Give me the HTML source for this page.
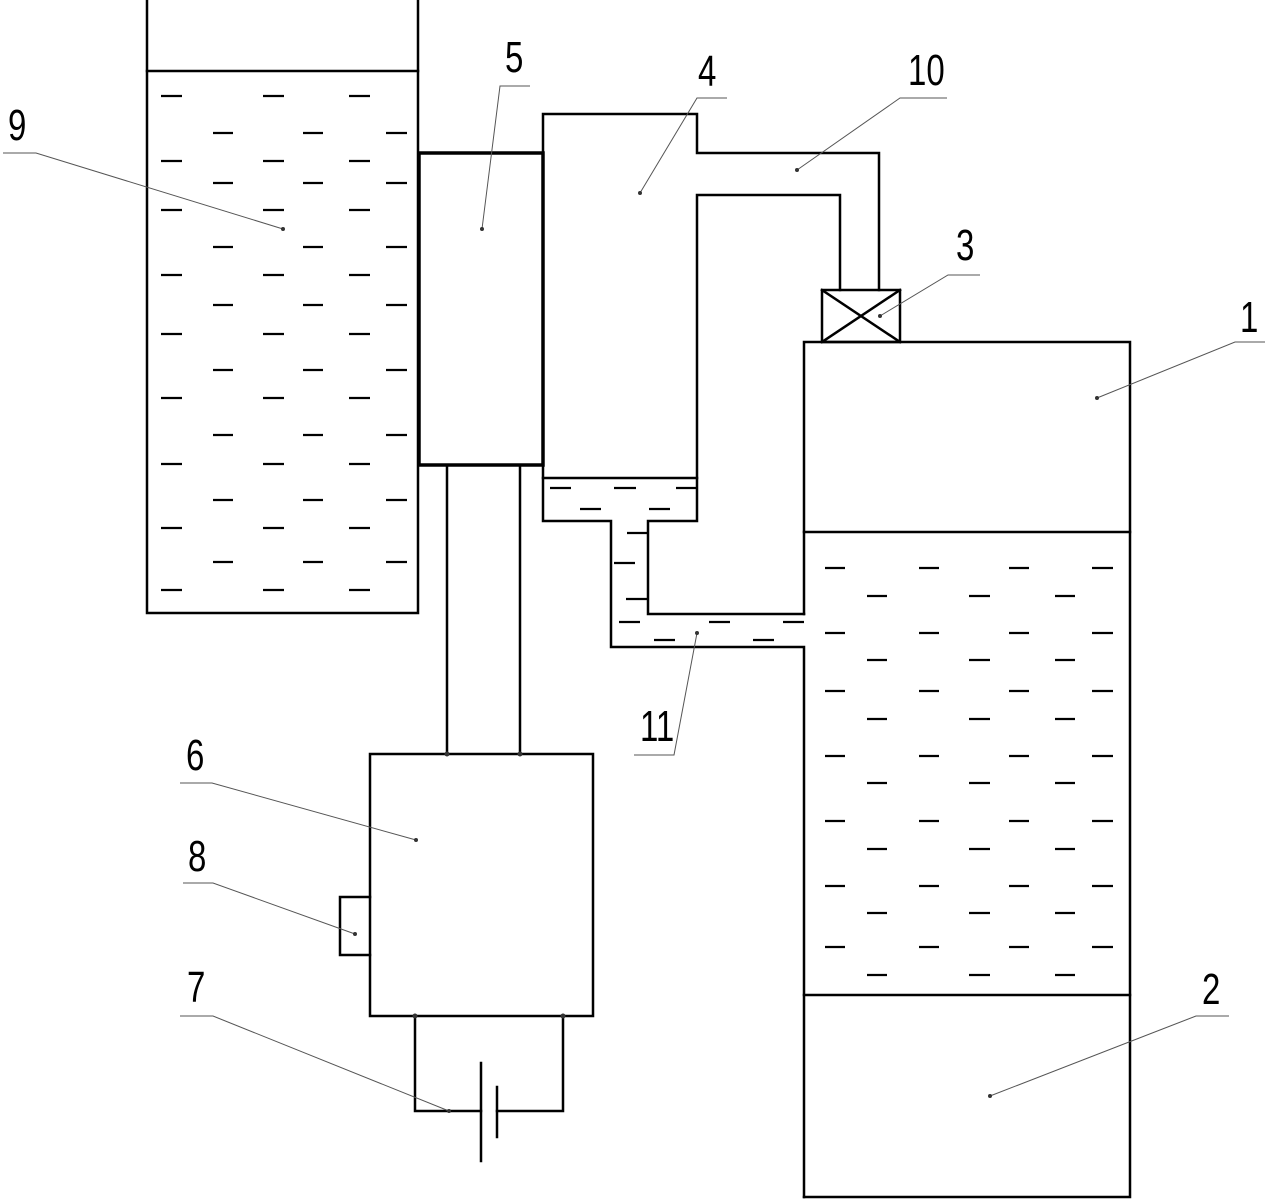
<!DOCTYPE html>
<html><head><meta charset="utf-8"><style>
html,body{margin:0;padding:0;background:#fff;}
svg{display:block}
text{font-family:"Liberation Sans",sans-serif;font-size:44px;fill:#000;}
</style></head><body>
<svg width="1265" height="1200" viewBox="0 0 1265 1200" xmlns="http://www.w3.org/2000/svg">
<g stroke="#000" stroke-width="2.5" fill="none" stroke-linecap="square">
<!-- tank 9 -->
<polyline points="147,0 147,613 418,613 418,0"/>
<line x1="147" y1="71" x2="418" y2="71"/>
<!-- 5 -->
<rect x="419" y="153" width="124" height="312" stroke-width="3.5"/>
<line x1="447" y1="465" x2="447" y2="754"/>
<line x1="520" y1="465" x2="520" y2="754"/>
<!-- 6 -->
<rect x="370" y="754" width="223" height="262"/>
<polyline points="370,897 340,897 340,955 370,955"/>
<!-- battery -->
<polyline points="415,1016 415,1111 481,1111"/>
<line x1="481" y1="1063" x2="481" y2="1161"/>
<line x1="497" y1="1087" x2="497" y2="1137"/>
<polyline points="497,1111 563,1111 563,1016"/>
<!-- vessel 4 and pipes -->
<polyline points="543,465 543,114 697,114 697,153 879,153 879,290"/>
<polyline points="840,290 840,195 697,195 697,521 648,521 648,614 804,614"/>
<line x1="543" y1="478" x2="697" y2="478"/>
<polyline points="543,465 543,521 611,521 611,647 804,647 804,1197"/>
<!-- valve 3 -->
<rect x="822" y="290" width="78" height="52"/>
<line x1="822" y1="290" x2="900" y2="342"/>
<line x1="900" y1="290" x2="822" y2="342"/>
<!-- vessel 1/2 -->
<polyline points="804,614 804,342 1130,342 1130,1197 804,1197"/>
<line x1="804" y1="532" x2="1130" y2="532"/>
<line x1="804" y1="995" x2="1130" y2="995"/>
</g>
<g stroke="#000" stroke-width="2.2">
<!-- tank 9 dashes -->
<g id="a9">
<path d="M161 96h21M263 96h21M349 96h21 M161 161h21M263 161h21M349 161h21 M161 210h21M263 210h21M349 210h21 M161 275h21M263 275h21M349 275h21 M161 334h21M263 334h21M349 334h21 M161 398h21M263 398h21M349 398h21 M161 464h21M263 464h21M349 464h21 M161 528h21M263 528h21M349 528h21 M161 590h21M263 590h21M349 590h21"/>
<path d="M213 133h20M303 133h20M386 133h21 M213 183h20M303 183h20M386 183h21 M213 247h20M303 247h20M386 247h21 M213 305h20M303 305h20M386 305h21 M213 370h20M303 370h20M386 370h21 M213 435h20M303 435h20M386 435h21 M213 500h20M303 500h20M386 500h21 M213 562h20M303 562h20M386 562h21"/>
</g>
<!-- vessel 2 dashes -->
<path d="M825 568h20M919 568h20M1009 568h20M1092 568h21 M825 633h20M919 633h20M1009 633h20M1092 633h21 M825 691h20M919 691h20M1009 691h20M1092 691h21 M825 756h20M919 756h20M1009 756h20M1092 756h21 M825 821h20M919 821h20M1009 821h20M1092 821h21 M825 886h20M919 886h20M1009 886h20M1092 886h21 M825 947h20M919 947h20M1009 947h20M1092 947h21"/>
<path d="M867 596h20M969 596h21M1055 596h20 M867 660h20M969 660h21M1055 660h20 M867 719h20M969 719h21M1055 719h20 M867 783h20M969 783h21M1055 783h20 M867 849h20M969 849h21M1055 849h20 M867 913h20M969 913h21M1055 913h20 M867 975h20M969 975h21M1055 975h20"/>
<!-- pipe dashes -->
<path d="M550 488h21M614 488h22M676 488h21 M580 509h21M649 509h21 M627 533h20M614 563h21M626 599h21 M619 622h21M709 622h21M783 622h21 M654 640h21M753 640h21"/>
</g>
<!-- leaders -->
<g stroke="#555" stroke-width="1" fill="none">
<polyline points="3,153 36,153 283,229"/>
<polyline points="530,86 500,86 482,229"/>
<polyline points="727,98 697,98 640,193"/>
<polyline points="947,98 900,98 797,170"/>
<polyline points="980,275 948,275 880,316"/>
<polyline points="1265,342 1235,342 1097,398"/>
<polyline points="1229,1016 1196,1016 990,1096"/>
<polyline points="180,783 212,783 416,840"/>
<polyline points="183,883 213,883 355,934"/>
<polyline points="180,1016 213,1016 449,1111"/>
<polyline points="634,755 674,755 697,633"/>
</g>
<g fill="#333">
<circle cx="283" cy="229" r="2"/><circle cx="482" cy="229" r="2"/><circle cx="640" cy="193" r="2"/>
<circle cx="797" cy="170" r="2"/><circle cx="880" cy="316" r="2"/><circle cx="1097" cy="398" r="2"/>
<circle cx="990" cy="1096" r="2"/><circle cx="416" cy="840" r="2"/><circle cx="355" cy="934" r="2"/>
<circle cx="449" cy="1111" r="2"/><circle cx="697" cy="633" r="2"/>
<circle cx="447" cy="754" r="2.5"/><circle cx="520" cy="754" r="2.5"/><circle cx="415" cy="1016" r="2.5"/><circle cx="563" cy="1016" r="2.5"/>
</g>
<g>
<text x="8" y="140" transform="translate(8 0) scale(0.75 1) translate(-8 0)">9</text>
<text transform="translate(505 72) scale(0.75 1)">5</text>
<text transform="translate(698 86) scale(0.75 1)">4</text>
<text transform="translate(908 85) scale(0.75 1)">10</text>
<text transform="translate(956 260) scale(0.75 1)">3</text>
<text transform="translate(1240 332) scale(0.75 1)">1</text>
<text transform="translate(1202 1004) scale(0.75 1)">2</text>
<text transform="translate(186 770) scale(0.75 1)">6</text>
<text transform="translate(188 871) scale(0.75 1)">8</text>
<text transform="translate(187 1002) scale(0.75 1)">7</text>
<text transform="translate(640 741) scale(0.75 1)">11</text>
</g>
</svg>
</body></html>
